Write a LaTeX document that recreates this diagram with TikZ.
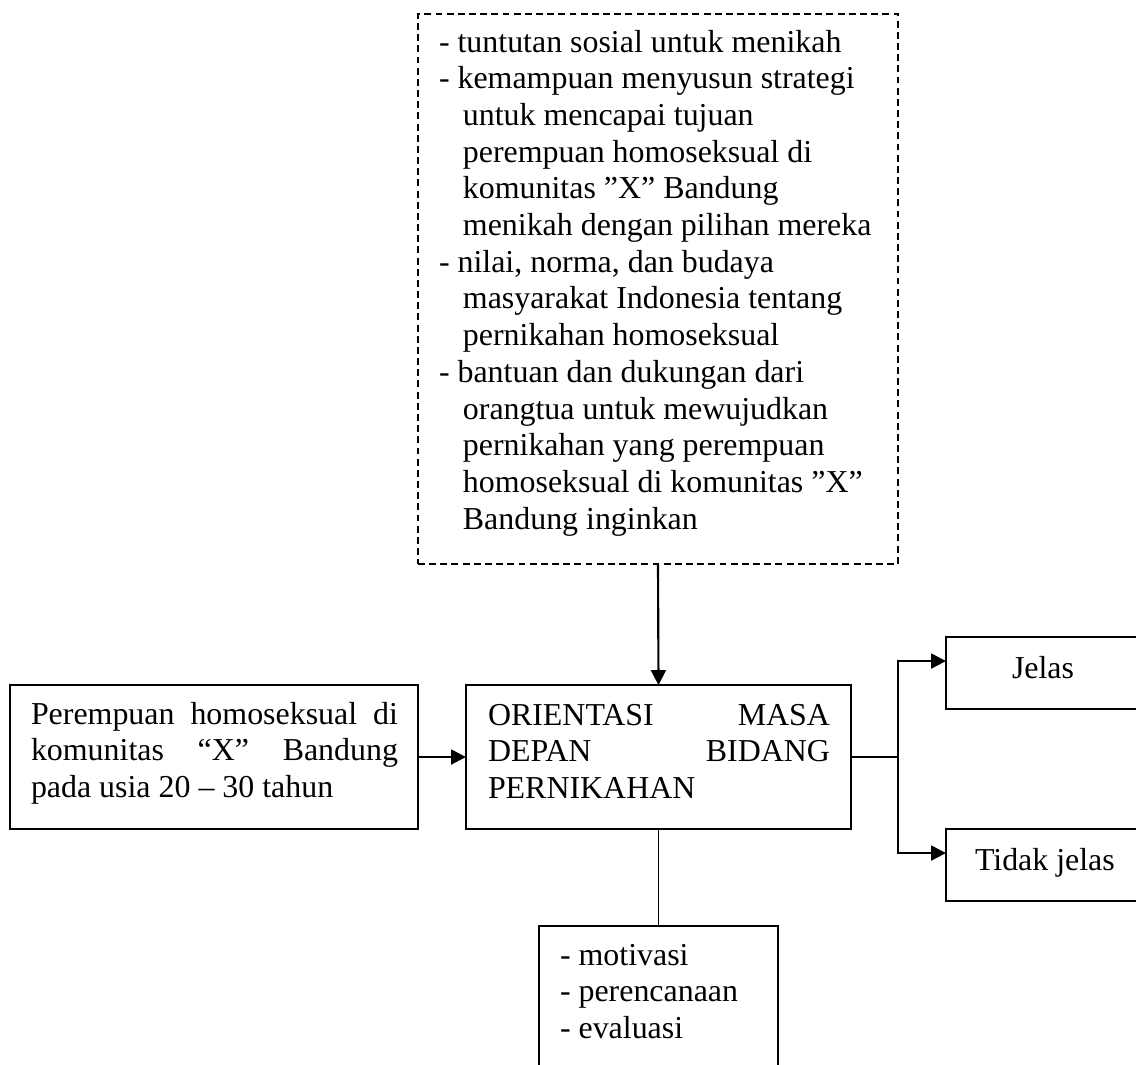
\documentclass[tikz,border=0pt]{standalone}
\usepackage{fontspec}
\setmainfont{Liberation Serif}
\usetikzlibrary{arrows.meta}
\begin{document}
\begin{tikzpicture}[x=0.376pt,y=-0.376pt,
  box/.style={draw,line width=0.65pt,inner sep=0pt,outer sep=0pt},
  dbox/.style={box,dash pattern=on 2.6pt off 1.6pt},
  txt/.style={inner sep=0pt,outer sep=0pt,anchor=base west,font=\fontsize{12}{13.8}\selectfont},
  arr/.style={line width=0.8pt,-{Triangle[length=5.6pt,width=5.6pt]}},
  con/.style={line width=0.7pt}]
\useasboundingbox (0,0) rectangle (1136,1064);
\clip (0,0) rectangle (1136,1064);
% boxes
\node[dbox,minimum width=180.5pt,minimum height=206.8pt] (factors) at (658,289) {};
\node[box,minimum width=153.4pt,minimum height=54.1pt] (subject) at (214,757) {};
\node[box,minimum width=144.8pt,minimum height=54.1pt] (orient) at (658.5,757) {};
\node[box,minimum width=76.7pt,minimum height=27.1pt] (jelas) at (1048,673) {};
\node[box,minimum width=76.7pt,minimum height=27.1pt] (tidak) at (1048,865) {};
\node[box,minimum width=89.9pt,minimum height=61.7pt] (aspek) at (658.5,1008) {};
% texts
\node[txt] (tfactors) at (439,52) {\parbox[t]{178pt}{\fontsize{12}{13.8}\selectfont\raggedright
- tuntutan sosial untuk menikah\\
- kemampuan menyusun strategi\\
\hspace*{9pt}untuk mencapai tujuan\\
\hspace*{9pt}perempuan homoseksual di\\
\hspace*{9pt}komunitas ”X” Bandung\\
\hspace*{9pt}menikah dengan pilihan mereka\\
- nilai, norma, dan budaya\\
\hspace*{9pt}masyarakat Indonesia tentang\\
\hspace*{9pt}pernikahan homoseksual\\
- bantuan dan dukungan dari\\
\hspace*{9pt}orangtua untuk mewujudkan\\
\hspace*{9pt}pernikahan yang perempuan\\
\hspace*{9pt}homoseksual di komunitas ”X”\\
\hspace*{9pt}Bandung inginkan}};
\node[txt] (tsubject) at (31,724) {\parbox[t]{138pt}{\fontsize{12}{13.8}\selectfont
\hbox to 138pt{Perempuan\hfill homoseksual\hfill di}
\hbox to 138pt{komunitas\hfill “X”\hfill Bandung}
\hbox{pada usia 20 – 30 tahun}}};
\node[txt] (torient) at (488,725) {\parbox[t]{128.6pt}{\fontsize{12}{13.8}\selectfont
\hbox to 128.6pt{ORIENTASI\hfill MASA}
\hbox to 128.6pt{DEPAN\hfill BIDANG}
\hbox{PERNIKAHAN}}};
\node[txt] (tjelas) at (1012,678) {Jelas};
\node[txt] (ttidak) at (975,870) {Tidak jelas};
\node[txt] (taspek) at (560,965) {\parbox[t]{80pt}{\fontsize{12}{13.8}\selectfont\raggedright
- motivasi\\
- perencanaan\\
- evaluasi}};
% connectors
\draw[arr] (factors.south) -- (orient.north);
\draw[arr] (subject.east) -- (orient.west);
\coordinate (split) at (898,757);
\draw[con] (orient.east) -- (split);
\draw[arr] (split) |- ([yshift=4.5pt]jelas.west);
\draw[arr] (split) |- ([yshift=4.5pt]tidak.west);
\draw[con] (orient.south) -- (aspek.north);
\end{tikzpicture}
\end{document}
